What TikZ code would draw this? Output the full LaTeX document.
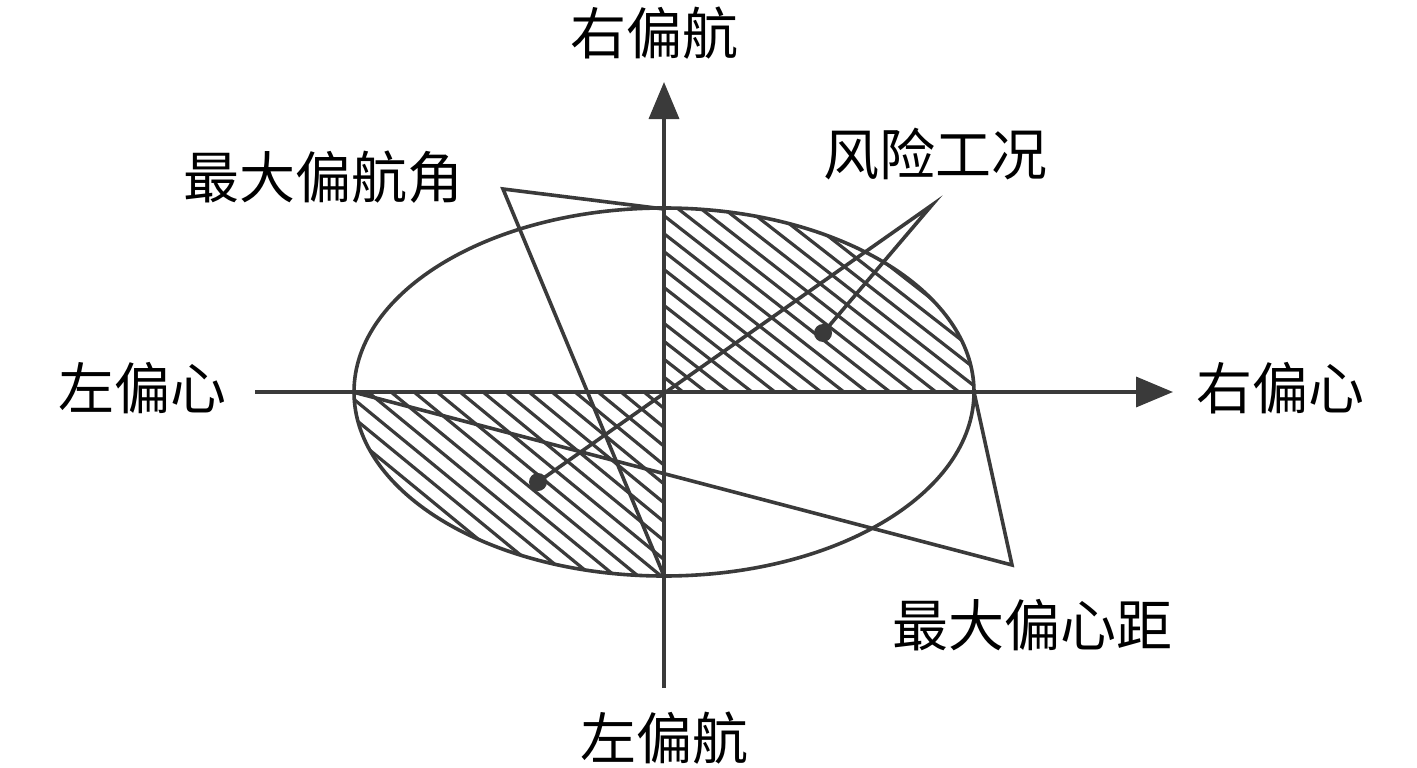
\documentclass[tikz,border=0pt]{standalone}
\usepackage{fontspec}
\setmainfont{Noto Sans CJK SC}
\usetikzlibrary{arrows.meta}
\definecolor{ink}{HTML}{3A3A3A}
\tikzset{
  lbl/.style={inner sep=0pt, text=black, font=\fontsize{56}{60}\selectfont},
  ln/.style={draw=ink, line width=3.6pt},
  axis/.style={draw=ink, line width=3.6pt, -{Triangle[length=37pt,width=30pt]}},
  hatch/.style={draw=ink, line width=3.2pt},
  dot/.style={circle, fill=ink, inner sep=0pt, minimum size=18pt}
}
\begin{document}
\begin{tikzpicture}[x=1pt,y=-1pt]
\useasboundingbox (0,0) rectangle (1417,768);
% key points
\coordinate (O) at (664,392);
\coordinate (EL) at (353,392);
\coordinate (ER) at (974,392);
\coordinate (ET) at (664,209);
\coordinate (EB) at (664,576);
\coordinate (A1) at (503,189);
\coordinate (A2) at (1012,565);
\coordinate (P) at (932,205);
\coordinate (XL) at (255,392);
\coordinate (XR) at (1173,392);
\coordinate (YB) at (664,688);
\coordinate (YT) at (664,82);
% hatched quadrants
\begin{scope}
  \clip (O) -- (ER) arc[start angle=0,end angle=90,x radius=310pt,y radius=184pt] -- cycle;
  \foreach \c in {200,223,...,1500} {\draw[hatch] (\c-400,80) -- (\c+400,704);}
\end{scope}
\begin{scope}
  \clip (O) -- (EL) arc[start angle=180,end angle=270,x radius=310pt,y radius=184pt] -- cycle;
  \foreach \c in {0,23,...,1200} {\draw[hatch] (\c-380,80) -- (\c+380,704);}
\end{scope}
% ellipse
\draw[ln] (O) ellipse[x radius=310pt,y radius=184pt];
% axes
\draw[axis] (XL) -- (XR);
\draw[axis] (YB) -- (YT);
% triangles
\draw[ln, line join=miter] (ET) -- (A1) -- (EB);
\draw[ln, line join=miter] (ER) -- (A2) -- (EL);
% risk dots and leaders
\node[dot] (D1) at (823,333) {};
\node[dot] (D2) at (538,482) {};
\draw[ln, line join=miter] (D1.center) -- (P) -- (D2.center);
% labels
\node[lbl] (t1) at (654,33) {右偏航};
\node[lbl] (t2) at (323,177) {最大偏航角};
\node[lbl] (t3) at (935,154) {风险工况};
\node[lbl] (t4) at (142,388) {左偏心};
\node[lbl] (t5) at (1280,388) {右偏心};
\node[lbl] (t6) at (1032,625) {最大偏心距};
\node[lbl] (t7) at (664,738) {左偏航};
\end{tikzpicture}
\end{document}
